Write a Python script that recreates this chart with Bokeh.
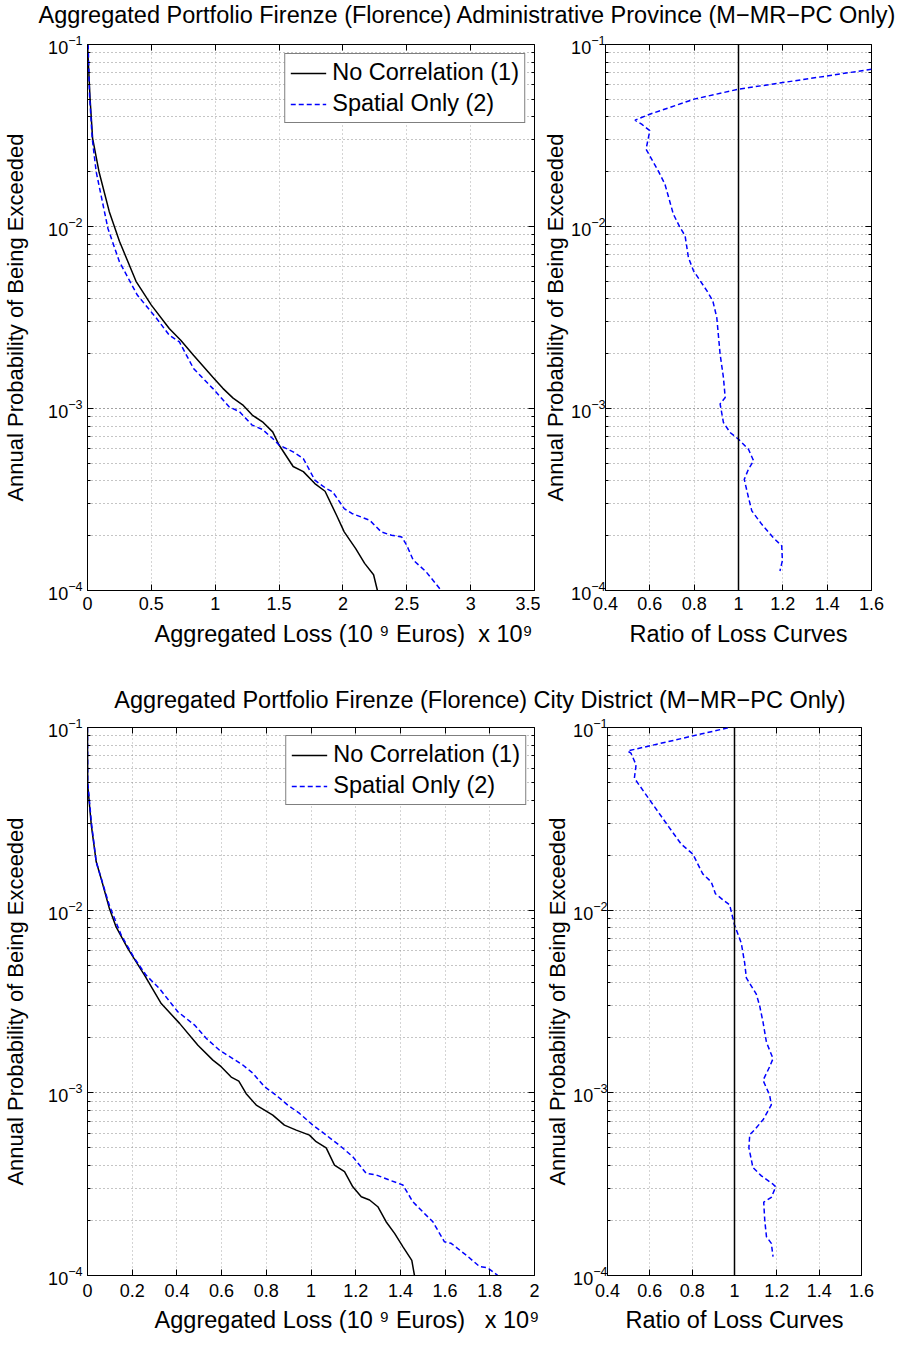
from bokeh.plotting import figure
from bokeh.models import (LogAxis, LinearAxis, FixedTicker, NumeralTickFormatter, Span,
                          Legend, LegendItem, Range1d, CustomJSTickFormatter)
from bokeh.layouts import column, row
from bokeh.embed import file_html
from bokeh.resources import INLINE

FONT = "Liberation Sans"
NB = "\u00a0"

# ---------------- data ----------------
title_prov = "Aggregated Portfolio Firenze (Florence) Administrative Province (M\u2212MR\u2212PC Only)"
title_city = "Aggregated Portfolio Firenze (Florence) City District (M\u2212MR\u2212PC Only)"
series_names = ["No Correlation (1)", "Spatial Only (2)"]
xlabel_loss = "Aggregated Loss (10 \u2079 Euros)"
scale_note = "x 10\u2079"
xlabel_ratio = "Ratio of Loss Curves"
ylabel = "Annual Probability of Being Exceeded"

y_ticks = [1e-4, 1e-3, 1e-2, 1e-1]
x_ticks_prov = [0, 0.5, 1, 1.5, 2, 2.5, 3, 3.5]
x_ticks_city = [0, 0.2, 0.4, 0.6, 0.8, 1, 1.2, 1.4, 1.6, 1.8, 2]
x_ticks_ratio = [0.4, 0.6, 0.8, 1, 1.2, 1.4, 1.6]

# Province, no correlation (loss in 1e9 EUR, annual exceedance probability)
loss_prov_nocorr = [0, 0.02, 0.04, 0.09, 0.17, 0.25, 0.38, 0.50, 0.64, 0.73, 0.83, 0.98, 1.06, 1.14,
                    1.22, 1.29, 1.37, 1.45, 1.50, 1.61, 1.69, 1.78, 1.86, 1.95, 2.01, 2.10, 2.17, 2.24, 2.27]
prob_prov_nocorr = [0.1, 0.0505, 0.0305, 0.020, 0.0121, 0.0083, 0.0050, 0.0037, 0.00275, 0.00237, 0.00196,
                    0.00149, 0.00129, 0.00114, 0.00104, 0.00092, 0.000845, 0.000744, 0.00063, 0.00048,
                    0.00045, 0.000387, 0.000351, 0.000259, 0.00021, 0.00017, 0.000141, 0.000122, 0.0001]
# Province, spatial only
loss_prov_spatial = [0.005, 0.016, 0.037, 0.068, 0.16, 0.25, 0.39, 0.54, 0.64, 0.72, 0.83, 0.98, 1.11, 1.19,
                     1.29, 1.37, 1.45, 1.50, 1.61, 1.69, 1.78, 1.87, 1.92, 2.01, 2.07, 2.21, 2.30, 2.38,
                     2.46, 2.50, 2.55, 2.65, 2.77]
prob_prov_spatial = [0.1, 0.0526, 0.0305, 0.020, 0.00975, 0.0064, 0.0042, 0.00313, 0.00253, 0.00232, 0.00166,
                     0.00129, 0.00102, 0.00096, 0.00081, 0.000767, 0.000684, 0.00063, 0.000578, 0.000531,
                     0.000404, 0.000363, 0.000348, 0.000282, 0.000265, 0.000243, 0.00021, 0.000201,
                     0.000197, 0.000177, 0.000147, 0.000127, 0.0001]
# Province, ratio of loss curves (2)/(1)
ratio_prov = [1.6, 1.0, 0.80, 0.60, 0.533, 0.563, 0.60, 0.583, 0.638, 0.668, 0.706, 0.736, 0.759, 0.774,
              0.797, 0.857, 0.884, 0.902, 0.917, 0.932, 0.94, 0.917, 0.932, 0.962, 1.0, 1.045, 1.068,
              1.045, 1.026, 1.045, 1.06, 1.105, 1.157, 1.195, 1.198, 1.187]
prob_prov_ratio = [0.0731, 0.0568, 0.0501, 0.0414, 0.0384, 0.0365, 0.0336, 0.0266, 0.0202, 0.0171, 0.0117,
                   0.00988, 0.0089, 0.00676, 0.00571, 0.00444, 0.00391, 0.00316, 0.00199, 0.00148, 0.00115,
                   0.00106, 0.000838, 0.000738, 0.000678, 0.000597, 0.000516, 0.000464, 0.000408, 0.000324,
                   0.000274, 0.000231, 0.000195, 0.000176, 0.000146, 0.000128]

# City, no correlation
loss_city_nocorr = [0, 0.001, 0.017, 0.039, 0.061, 0.098, 0.128, 0.180, 0.255, 0.330, 0.412, 0.494, 0.561,
                    0.598, 0.643, 0.677, 0.710, 0.755, 0.829, 0.881, 0.934, 0.993, 1.023, 1.068, 1.105,
                    1.150, 1.187, 1.225, 1.262, 1.299, 1.336, 1.374, 1.411, 1.451, 1.463]
prob_city_nocorr = [0.1, 0.0483, 0.0292, 0.0184, 0.0149, 0.0102, 0.0081, 0.00617, 0.00441, 0.00308, 0.0024,
                    0.00182, 0.00151, 0.00139, 0.00122, 0.00116, 0.00099, 0.000857, 0.000755, 0.000666,
                    0.000625, 0.000587, 0.00054, 0.0005, 0.000402, 0.00037, 0.000306, 0.00027, 0.000259,
                    0.000238, 0.000197, 0.00017, 0.000144, 0.000121, 0.0001]
# City, spatial only
loss_city_spatial = [0, 0.001, 0.017, 0.039, 0.098, 0.151, 0.210, 0.262, 0.322, 0.404, 0.479, 0.531, 0.591,
                     0.650, 0.695, 0.740, 0.792, 0.844, 0.896, 0.949, 1.008, 1.068, 1.135, 1.187, 1.247,
                     1.292, 1.351, 1.411, 1.456, 1.515, 1.545, 1.597, 1.627, 1.702, 1.754, 1.791, 1.836]
prob_city_spatial = [0.1, 0.0505, 0.0305, 0.0184, 0.0106, 0.00729, 0.00545, 0.00441, 0.00372, 0.00278,
                     0.00235, 0.00199, 0.00171, 0.00154, 0.00142, 0.00128, 0.00108, 0.000971, 0.000857,
                     0.000771, 0.000666, 0.000587, 0.000507, 0.000447, 0.000362, 0.000355, 0.000333,
                     0.000313, 0.000253, 0.000214, 0.000197, 0.000153, 0.00015, 0.000127, 0.000112,
                     0.00011, 0.0001]
# City, ratio of loss curves
ratio_city = [0.969, 0.495, 0.511, 0.535, 0.527, 0.598, 0.692, 0.748, 0.803, 0.850, 0.890, 0.910, 0.945,
              0.977, 1.0, 1.032, 1.048, 1.056, 1.103, 1.119, 1.135, 1.151, 1.182, 1.166, 1.135, 1.166,
              1.174, 1.135, 1.095, 1.072, 1.068, 1.087, 1.127, 1.182, 1.195, 1.174, 1.138, 1.143, 1.151,
              1.174, 1.182]
prob_city_ratio = [0.0996, 0.0744, 0.0723, 0.0625, 0.0528, 0.0403, 0.0283, 0.023, 0.0203, 0.0158, 0.0143,
                   0.0123, 0.0114, 0.0107, 0.0083, 0.0066, 0.00514, 0.00426, 0.00347, 0.00299, 0.00243,
                   0.00189, 0.00154, 0.00139, 0.00117, 0.000972, 0.000859, 0.000712, 0.000628, 0.00059,
                   0.0005, 0.00039, 0.000351, 0.000316, 0.000306, 0.000268, 0.000252, 0.0002, 0.000163,
                   0.00015, 0.000127]

BLUE = "#0000ff"
y_minor = [m * 10.0 ** e for e in (-4, -3, -2) for m in range(2, 10)]


def style_axis(ax, labels=True, tick_standoff=5, label_standoff=5, label_size="23px"):
    ax.major_tick_in = 6
    ax.major_tick_out = 0
    ax.minor_tick_in = 3
    ax.minor_tick_out = 0
    ax.major_tick_line_color = "black"
    ax.minor_tick_line_color = "black"
    ax.axis_line_color = "black"
    ax.major_label_text_font = FONT
    ax.major_label_text_color = "black"
    ax.major_label_standoff = tick_standoff
    ax.axis_label_text_font = FONT
    ax.axis_label_text_font_size = label_size
    ax.axis_label_text_font_style = "normal"
    ax.axis_label_text_color = "black"
    ax.axis_label_standoff = label_standoff
    if labels:
        ax.major_label_text_font_size = "18px"
    else:
        ax.formatter = CustomJSTickFormatter(code="return ''")
        ax.major_label_text_font_size = "1px"
        ax.major_label_standoff = 0
        ax.axis_line_color = None


def make_fig(xr, xticks, fw, fh, mbl, mbr, mbt, mbb, xlabel, x_tick_sd, x_lab_sd, y_tick_sd, y_lab_sd):
    p = figure(x_range=Range1d(*xr), y_range=Range1d(1e-4, 1e-1), y_axis_type="log",
               frame_width=fw, frame_height=fh, min_border_left=mbl, min_border_right=mbr,
               min_border_top=mbt, min_border_bottom=mbb, output_backend="svg",
               toolbar_location=None, background_fill_color="white", border_fill_color="white")
    xt = FixedTicker(ticks=xticks, minor_ticks=[])
    yt = FixedTicker(ticks=y_ticks, minor_ticks=y_minor)
    p.xaxis.ticker = xt
    p.yaxis.ticker = yt
    p.xaxis.formatter = NumeralTickFormatter(format="0.[0]")
    p.xaxis.axis_label = xlabel
    p.yaxis.axis_label = ylabel
    style_axis(p.xaxis[0], True, x_tick_sd, x_lab_sd, "23.5px")
    style_axis(p.yaxis[0], True, y_tick_sd, y_lab_sd, "22px")
    top = LinearAxis(ticker=xt)
    right = LogAxis(ticker=yt)
    style_axis(top, False)
    style_axis(right, False)
    p.add_layout(top, "above")
    p.add_layout(right, "right")
    p.outline_line_color = "black"
    p.outline_line_width = 1
    p.outline_line_alpha = 1
    p.xgrid.grid_line_color = "#a8a8a8"
    p.xgrid.grid_line_dash = "1 3"
    p.ygrid.grid_line_color = "#444444"
    p.ygrid.grid_line_dash = "1 3"
    p.ygrid.minor_grid_line_color = "#8a8a8a"
    p.ygrid.minor_grid_line_dash = "1 3"
    return p


def add_legend(p, r1, r2, margin):
    lg = Legend(items=[LegendItem(label=series_names[0], renderers=[r1]),
                       LegendItem(label=series_names[1], renderers=[r2])],
                location="top_right")
    lg.border_line_color = "black"
    lg.border_line_width = 1
    lg.background_fill_alpha = 1
    lg.label_text_font = FONT
    lg.label_text_font_size = "23.5px"
    lg.label_text_color = "black"
    lg.glyph_width = 36
    lg.glyph_height = 26
    lg.label_height = 26
    lg.spacing = 4
    lg.padding = 5
    lg.margin = margin
    lg.label_standoff = 6
    p.add_layout(lg)


def title_fig(text, h, left, standoff):
    t = figure(width=904, height=h, x_range=Range1d(0, 1), y_range=Range1d(0, 1),
               min_border_left=left, min_border_right=0, min_border_top=0, min_border_bottom=0,
               x_axis_location=None, y_axis_location=None, title=text,
               output_backend="svg", toolbar_location=None)
    t.grid.visible = False
    t.outline_line_color = None
    t.title.align = "center"
    t.title.vertical_align = "top"
    t.title.standoff = standoff
    t.title.text_font = FONT
    t.title.text_font_size = "23.5px"
    t.title.text_font_style = "normal"
    t.title.text_color = "black"
    return t


# axis label of the loss plots with the MATLAB-style exponent note on the same line
xlabel_loss_top = NB * 10 + xlabel_loss + NB * 2 + scale_note
xlabel_loss_bot = NB * 11 + xlabel_loss + NB * 3 + scale_note

# ---------- top row (province) ----------
p1 = make_fig((0, 3.5), x_ticks_prov, 447, 546, 86, 6, 12, 94, xlabel_loss_top, 6, 8, 5, 17)
r1 = p1.line(loss_prov_nocorr, prob_prov_nocorr, line_color="black", line_width=1.5)
r2 = p1.line(loss_prov_spatial, prob_prov_spatial, line_color=BLUE, line_width=1.5, line_dash="5 3")
add_legend(p1, r1, r2, 9)

p2 = make_fig((0.4, 1.6), x_ticks_ratio, 266, 546, 61, 25, 12, 94, xlabel_ratio, 6, 8, 0, 0)
p2.add_layout(Span(location=1, dimension="height", line_color="black", line_width=1.5))
p2.line(ratio_prov, prob_prov_ratio, line_color=BLUE, line_width=1.5, line_dash="5 3")

# ---------- bottom row (city) ----------
p3 = make_fig((0, 2), x_ticks_city, 447, 548, 86, 8, 10, 64, xlabel_loss_bot, 8, 7, 5, 17)
r3 = p3.line(loss_city_nocorr, prob_city_nocorr, line_color="black", line_width=1.5)
r4 = p3.line(loss_city_spatial, prob_city_spatial, line_color=BLUE, line_width=1.5, line_dash="5 3")
add_legend(p3, r3, r4, 8)

p4 = make_fig((0.4, 1.6), x_ticks_ratio, 254, 548, 61, 35, 10, 64, xlabel_ratio, 8, 7, 0, 0)
p4.add_layout(Span(location=1, dimension="height", line_color="black", line_width=1.5))
p4.line(ratio_city, prob_city_ratio, line_color=BLUE, line_width=1.5, line_dash="5 3")

# each title strip sits in its own row so that their frames are not aligned to each other
t1 = title_fig(title_prov, 32, 30, 3)
t2 = title_fig(title_city, 33, 55, 5)

layout = column(row(t1, spacing=0), row(p1, p2, spacing=0), row(t2, spacing=0),
                row(p3, p4, spacing=0), spacing=0)

open("out.html", "w").write(file_html(layout, INLINE))
